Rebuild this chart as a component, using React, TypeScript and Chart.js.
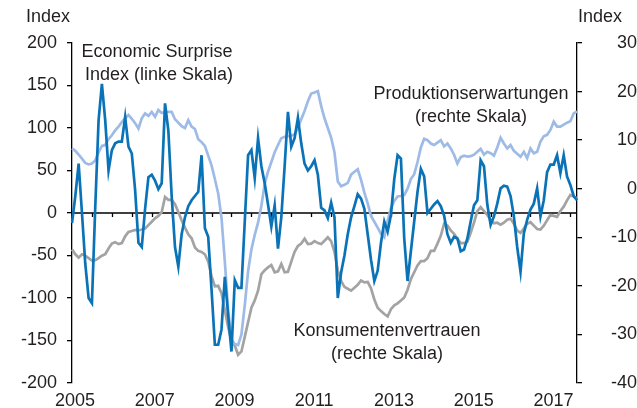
import React, { useEffect, useRef } from "react";
import { Chart, registerables } from "chart.js";

Chart.register(...registerables);

// Monthly data, Jan 2005 .. Sep 2017
const yearLabels = ["2005", "2007", "2009", "2011", "2013", "2015", "2017"];
const leftTicks = [-200, -150, -100, -50, 0, 50, 100, 150, 200];
const rightTicks = [-40, -30, -20, -10, 0, 10, 20, 30];

// Economic Surprise Index (left scale)
const surprise = [
  -12, 20, 58, 0, -60, -100, -106, 7, 109, 152, 109, 50,
  74, 82, 84, 84, 113, 78, 70, 27, -35, -40, 5, 42,
  45, 38, 28, 35, 129, 97, 20, -40, -63, -25, -5, 8,
  15, 20, 25, 68, -18, -28, -90, -155, -155, -137, -75, -120,
  -163, -79, -88, -88, -10, 68, 74, 41, 88, 55, 35, 10,
  -16, 9, -42, -5, 55, 119, 78, 88, 112, 82, 58, 50,
  55, 62, 45, 6, 3, -6, 12, -5, -100, -70, -50, -25,
  -5, 8, 22, 17, 5, -25, -55, -80, -68, -35, -10, -22,
  -2, 40, 68, 64, -30, -80, -45, -10, 25, 52, 43, 0,
  5, 10, 14, 8, -3, -25, -35, -28, -30, -45, -43, -30,
  -10, 9, 15, 62, 55, 10, -14, -4, 11, 29, 32, 31,
  20, -4, -40, -69, -24, -8, 4, 11, 29, -4, 15, 48,
  57, 57, 68, 47, 68, 43, 33, 20, 15,
];

// Produktionserwartungen (right scale)
const production = [
  8.3, 7.8, 7.0, 6.2, 5.3, 5.0, 5.2, 5.8, 7.5, 8.8, 9.0, 10.2,
  11.0, 12.0, 12.8, 13.7, 14.5, 15.2, 14.4, 13.5, 12.4, 14.5, 15.5, 15.0,
  15.8, 14.8, 16.2, 15.6, 15.8, 15.8, 15.8, 14.3, 13.6, 12.9, 12.5, 14.1,
  12.8, 12.3, 10.2, 9.6, 8.8, 6.8, 4.8, 2.0, -1.0, -6, -15, -25,
  -31, -32, -32.2, -30, -24, -17, -12.5, -9.5, -7, -3.5, 1, 3.5,
  5.5, 7.5, 9, 10.4, 10.7, 10.8, 10.9, 11.2, 12.5, 14.3, 16, 18,
  19.6, 19.8, 20.1, 17, 14.5, 12.5, 10.5, 7.5, 1.5, 0.5, 0.8, 1.2,
  2.9, 3.5, 4.0, 1.8, -0.8, -3, -5.6, -6.8, -8, -9.3, -10, -6.6,
  -4, -2.5, -1.6, -1.5, -1.3, 0, 2, 3, 5.5, 8.5, 10.3, 10,
  9.3, 9, 9.5, 10, 8.7, 9.3, 8.3, 7, 5.2, 6.5, 6.8, 6.6,
  6.7, 7, 7.6, 8.2, 7.0, 7.6, 7.3, 6.8, 8.5, 10.5, 9.3, 8.3,
  9.0, 7.8, 7.2, 6.6, 7.6, 6.3, 8.3, 7.3, 7.6, 9.7, 10.8, 11.1,
  12.1, 13.8, 12.8, 12.8, 13.2, 13.6, 13.9, 15.5, 15.9,
];

// Konsumentenvertrauen (right scale)
const consumer = [
  -12.5, -13.5, -14.2, -13.5, -13.8, -14.3, -14.8, -14.7, -14.3, -13.8, -13.5, -12.3,
  -11.3, -11.0, -11.4, -11.2, -9.8, -8.9, -8.7, -8.5, -8.6, -8.4, -8.2, -7.5,
  -6.8, -6.1, -5.6, -4.8, -1.7, -2.3, -2.3, -3.2, -4.8, -6.5, -8.0, -9.4,
  -10.2, -12.1, -12.8, -13.0, -13.5, -15.0, -18.0, -20.1, -20.0, -21.5, -25.0, -28.5,
  -31.4, -32.3, -34.2, -33.5, -30.5, -27.5, -24.5, -23.0, -21.0, -17.6, -16.8, -16.2,
  -15.7, -17.2, -17.0, -15.5, -17.2, -17.1, -15.0, -13.0, -11.8, -11.3, -10.3, -11.4,
  -11.3, -10.8, -11.2, -11.4, -10.7, -10.0, -10.8, -13.0, -16.8, -19.0, -20.2, -20.6,
  -21.0, -20.4, -19.8, -18.9, -19.3, -19.2, -20.5, -22.8, -24.5, -25.2, -25.8, -26.3,
  -24.8, -24.0, -23.6, -23.0, -22.4, -20.8, -18.6, -17.2, -15.8, -14.9, -14.9, -14.3,
  -12.8, -12.8, -11.3, -9.7, -7.2, -7.6, -8.6, -9.3, -10.3, -11.2, -11.2, -10.9,
  -9.1, -7.0, -4.6, -3.8, -4.6, -5.4, -6.4, -7.1, -7.0, -7.4, -7.0, -6.4,
  -6.2, -7.2, -8.6, -9.1, -8.2, -7.2, -6.9, -7.6, -8.3, -8.4, -7.6, -6.5,
  -5.4, -5.6, -5.8, -4.6, -3.7, -2.4, -1.3, -1.6, -2.0,
];

const months = surprise.map((_, i) => `${2005 + Math.floor(i / 12)}-${String((i % 12) + 1).padStart(2, "0")}`);

const FONT = "'Liberation Sans', Arial, Helvetica, sans-serif";
const TEXT = "#231f20";

const overlay = {
  id: "overlay",
  beforeDatasetsDraw(chart: any) {
    const { ctx, chartArea, scales } = chart;
    const y0 = scales.yL.getPixelForValue(0);
    ctx.save();
    ctx.strokeStyle = "#000";
    ctx.lineWidth = 1.3;
    ctx.beginPath();
    ctx.moveTo(chartArea.left, y0);
    ctx.lineTo(chartArea.right, y0);
    for (let i = 0; i < months.length; i += 6) {
      const x = Math.round(scales.x.getPixelForValue(i)) + 0.5;
      ctx.moveTo(x, y0);
      ctx.lineTo(x, y0 + 4);
    }
    ctx.stroke();
    ctx.restore();
  },
  afterDraw(chart: any) {
    const { ctx } = chart;
    ctx.save();
    ctx.fillStyle = TEXT;
    ctx.font = `18px ${FONT}`;
    ctx.textBaseline = "alphabetic";
    ctx.textAlign = "left";
    ctx.fillText("Index", 26, 22);
    ctx.textAlign = "right";
    ctx.fillText("Index", 622, 22);
    ctx.textAlign = "center";
    ctx.fillText("Economic Surprise", 157, 57);
    ctx.fillText("Index (linke Skala)", 159, 80);
    ctx.fillText("Produktionserwartungen", 471, 99);
    ctx.fillText("(rechte Skala)", 471, 122);
    ctx.fillText("Konsumentenvertrauen", 387, 336);
    ctx.fillText("(rechte Skala)", 387, 359);
    ctx.restore();
  },
};

export default function App() {
  const ref = useRef<HTMLCanvasElement>(null);
  useEffect(() => {
    const font = { family: FONT, size: 18 };
    const chart = new Chart(ref.current as HTMLCanvasElement, {
      type: "line",
      data: {
        labels: months,
        datasets: [
          { label: "Economic Surprise Index", data: surprise, yAxisID: "yL", borderColor: "#0a73b8", borderWidth: 2.7, pointRadius: 0, tension: 0 },
          { label: "Produktionserwartungen", data: production, yAxisID: "yR", borderColor: "#9dbbe6", borderWidth: 2.7, pointRadius: 0, tension: 0 },
          { label: "Konsumentenvertrauen", data: consumer, yAxisID: "yR", borderColor: "#a3a3a3", borderWidth: 2.7, pointRadius: 0, tension: 0 },
        ],
      },
      options: {
        responsive: false,
        animation: false,
        events: [],
        layout: { padding: { top: 43, left: 0, right: 0, bottom: 0 } },
        plugins: { legend: { display: false }, tooltip: { enabled: false } },
        scales: {
          x: {
            type: "category",
            grid: { display: false, drawTicks: false },
            border: { display: false },
            ticks: {
              autoSkip: false,
              maxRotation: 0,
              minRotation: 0,
              padding: 7,
              labelOffset: 3,
              color: TEXT,
              font,
              callback: (_v: any, i: number) => (i % 24 === 0 ? yearLabels[i / 24] ?? "" : ""),
            },
            afterFit: (s: any) => { s.height = 25; },
          },
          yL: {
            position: "left",
            min: -200,
            max: 200,
            afterBuildTicks: (s: any) => { s.ticks = leftTicks.map((v) => ({ value: v })); },
            ticks: { padding: 10, color: TEXT, font },
            grid: { drawOnChartArea: false, tickLength: 5, color: "#000", lineWidth: 1.3 },
            border: { color: "#000", width: 1.3 },
            afterFit: (s: any) => { s.width = 72; },
          },
          yR: {
            position: "right",
            min: -40,
            max: 30,
            afterBuildTicks: (s: any) => { s.ticks = rightTicks.map((v) => ({ value: v })); },
            ticks: { padding: 14, color: TEXT, font, crossAlign: "far" },
            grid: { drawOnChartArea: false, tickLength: 5, color: "#000", lineWidth: 1.3 },
            border: { color: "#000", width: 1.3 },
            afterFit: (s: any) => { s.width = 60; },
          },
        },
      },
      plugins: [overlay],
    } as any);
    return () => chart.destroy();
  }, []);
  return (
    <div style={{ position: "absolute", left: 0, top: 0, width: 637, height: 408, background: "#fff" }}>
      <canvas ref={ref} width={637} height={408} style={{ display: "block" }} />
    </div>
  );
}
